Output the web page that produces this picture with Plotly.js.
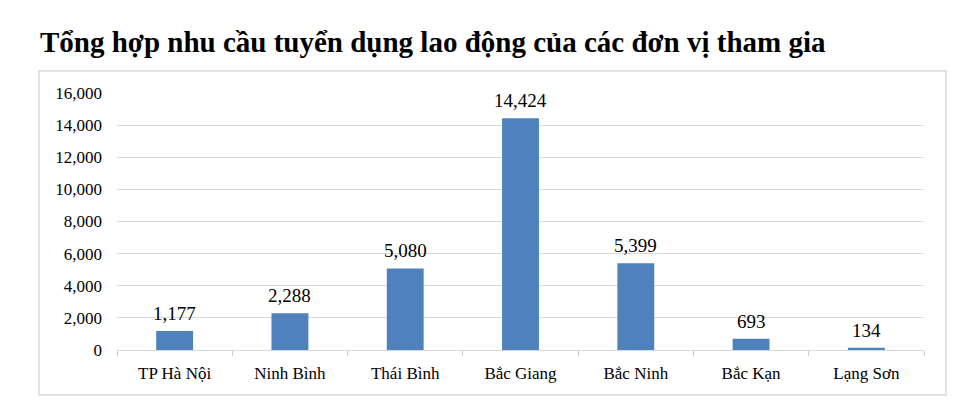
<!DOCTYPE html>
<html>
<head>
<meta charset="utf-8">
<script src="https://cdn.plot.ly/plotly-3.0.1.min.js"></script>
<style>
  html, body { margin: 0; padding: 0; background: #fff; }
  #chart { width: 980px; height: 408px; }
</style>
</head>
<body>
<div id="chart"></div>
<script>
var units = ["TP Hà Nội", "Ninh Bình", "Thái Bình", "Bắc Giang", "Bắc Ninh", "Bắc Kạn", "Lạng Sơn"];
var demand = [1177, 2288, 5080, 14424, 5399, 693, 134];
var yTicks = [0, 2000, 4000, 6000, 8000, 10000, 12000, 14000, 16000];

var serif = 'Liberation Serif';

function fmt(v) { return v.toLocaleString('en-US'); }

var data = [{
  type: 'bar',
  x: units,
  y: demand,
  marker: { color: '#4f81bd' },
  hoverinfo: 'none'
}];

// value labels sit a little above each bar
var labels = units.map(function(u, i) {
  return {
    x: u, y: demand[i], xref: 'x', yref: 'y',
    text: fmt(demand[i]),
    showarrow: false,
    yanchor: 'bottom',
    yshift: 5,
    font: { family: serif, size: 19, color: '#000' }
  };
});

var layout = {
  width: 980,
  height: 408,
  margin: { l: 117, r: 56, t: 93, b: 58, pad: 0 },
  paper_bgcolor: '#fff',
  plot_bgcolor: '#fff',
  showlegend: false,
  bargap: 0.68,
  font: { family: serif, size: 17, color: '#000' },
  title: {
    text: '<b>Tổng hợp nhu cầu tuyển dụng lao động của các đơn vị tham gia</b>',
    font: { family: serif, size: 29, color: '#000' },
    xref: 'container', yref: 'container',
    x: 40 / 980, xanchor: 'left',
    y: 1 - 42 / 408, yanchor: 'middle'
  },
  xaxis: {
    type: 'category',
    showline: true,
    linecolor: '#d9d9d9',
    linewidth: 1,
    ticks: 'outside',
    tickson: 'boundaries',
    ticklen: 5,
    tickcolor: '#d0d0d0',
    tickwidth: 1,
    showgrid: false,
    ticklabelstandoff: 8,
    tickfont: { family: serif, size: 17, color: '#000' }
  },
  yaxis: {
    range: [0, 16000],
    tickvals: yTicks,
    ticktext: yTicks.map(fmt),
    showgrid: true,
    gridcolor: '#d9d9d9',
    gridwidth: 1,
    zeroline: false,
    showline: false,
    ticks: '',
    ticklabelstandoff: 14,
    tickfont: { family: serif, size: 17, color: '#000' }
  },
  annotations: labels,
  shapes: [{
    type: 'rect',
    xref: 'paper', yref: 'paper',
    x0: (39 - 117) / 807, x1: (946 - 117) / 807,
    y0: (350 - 395) / 257, y1: (350 - 71) / 257,
    line: { color: '#d9d9d9', width: 1.5 },
    fillcolor: 'rgba(0,0,0,0)',
    layer: 'below'
  }]
};

Plotly.newPlot('chart', data, layout, { displayModeBar: false, staticPlot: true });
</script>
</body>
</html>
